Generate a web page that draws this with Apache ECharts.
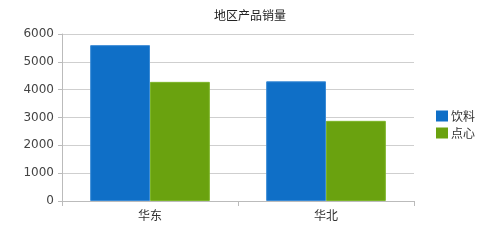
<!DOCTYPE html>
<html><head><meta charset="utf-8">
<script src="https://cdn.jsdelivr.net/npm/echarts@6/dist/echarts.min.js"></script>
<style>html,body{margin:0;padding:0;background:#fff}#c{width:500px;height:242px}</style>
</head><body><div id="c"></div>
<script>
const categories = ['华东', '华北'];
const drinks = [5600, 4300];
const snacks = [4280, 2880];
const seriesNames = ['饮料', '点心'];
const yTicks = [0, 1000, 2000, 3000, 4000, 5000, 6000];

const chart = echarts.init(document.getElementById('c'));
chart.setOption({
  animation: false,
  title: { text: '地区产品销量', left: 'center', top: 4,
    textStyle: { fontSize: 12, fontWeight: 'normal', color: '#222', fontFamily: 'Noto Sans CJK SC' } },
  legend: { orient: 'vertical', left: 436, top: 110, padding: 0, itemWidth: 12, itemHeight: 11, itemGap: 5,
    icon: 'rect', itemStyle: { borderWidth: 0 },
    textStyle: { fontSize: 12, color: '#333', fontFamily: 'Noto Sans CJK SC', padding: [0,0,0,-2] },
    data: seriesNames },
  grid: { left: 62, right: 86, top: 34, bottom: 41 },
  xAxis: { type: 'category', data: categories,
    axisLine: { lineStyle: { color: '#bbb' } },
    axisTick: { show: true, length: 5, lineStyle: { color: '#bbb' } },
    axisLabel: { fontSize: 12, color: '#333', margin: 8, fontFamily: 'Noto Sans CJK SC' } },
  yAxis: { type: 'value', min: yTicks[0], max: yTicks[yTicks.length-1], interval: 1000,
    axisLine: { show: true, lineStyle: { color: '#bbb' } },
    axisTick: { show: true, length: 4, lineStyle: { color: '#bbb' } },
    axisLabel: { fontSize: 12, color: '#444', margin: 8, fontFamily: 'DejaVu Sans',
      formatter: v => String(v) },
    splitLine: { lineStyle: { color: '#cfcfcf' } } },
  series: [
    { name: seriesNames[0], type: 'bar', data: drinks, barGap: '0%', barCategoryGap: '32%',
      itemStyle: { color: '#0f6fc7', borderColor: '#3b8bd6', borderWidth: 1 } },
    { name: seriesNames[1], type: 'bar', data: snacks, barGap: '0%', barCategoryGap: '32%',
      itemStyle: { color: '#6aa20f', borderColor: '#7db52a', borderWidth: 1 } }
  ]
});
</script></body></html>
